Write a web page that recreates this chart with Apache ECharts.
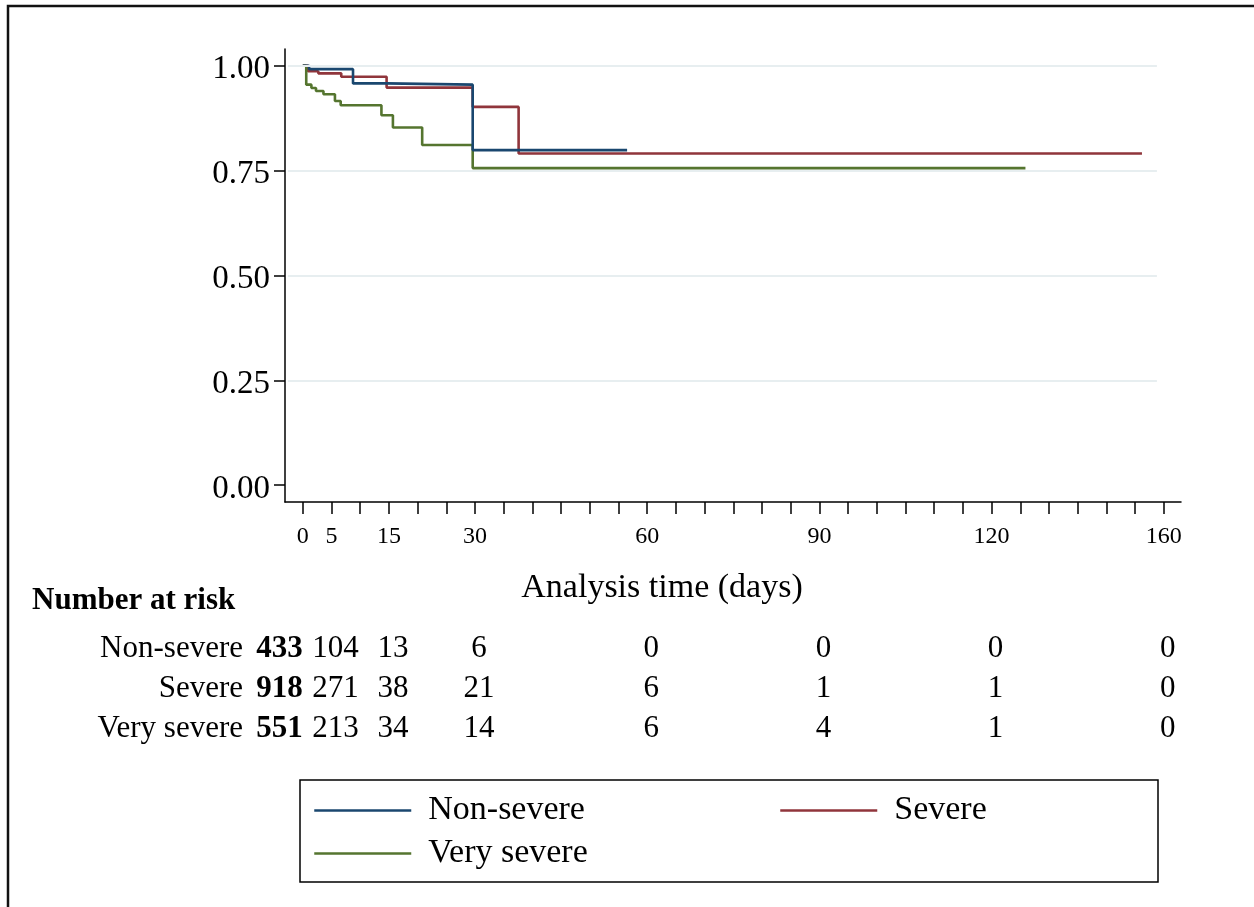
<!DOCTYPE html>
<html><head><meta charset="utf-8">
<script src="https://cdn.jsdelivr.net/npm/echarts@6/dist/echarts.min.js"></script>
<style>html,body{margin:0;padding:0;background:#fff}#c{width:1254px;height:907px}</style>
</head><body><div id="c"></div>
<script>
// ---- data ----
const groups = ['Non-severe', 'Severe', 'Very severe'];
const groupColors = ['#1a476f', '#90353b', '#55752f'];

const nonSevereTime = [0, 1.1, 8.75, 14.6, 29.6, 56.5];
const nonSevereSurv = [1.0, 0.992, 0.958, 0.955, 0.799, 0.799];

const severeTime = [0, 0.9, 2.7, 6.7, 14.6, 29.6, 37.6, 146.2];
const severeSurv = [1.0, 0.987, 0.982, 0.974, 0.948, 0.902, 0.791, 0.791];

const verySevereTime = [0, 0.6, 1.5, 2.3, 3.6, 5.6, 6.6, 13.7, 15.7, 20.8, 29.6, 125.9];
const verySevereSurv = [1.0, 0.955, 0.947, 0.940, 0.932, 0.916, 0.906, 0.882, 0.853, 0.811, 0.756, 0.756];

const yTickValues = [0, 0.25, 0.5, 0.75, 1];
const yTickLabels = ['0.00', '0.25', '0.50', '0.75', '1.00'];
const yGridValues = [0.25, 0.5, 0.75, 1];

const xTickValues = [0, 5, 10, 15, 20, 25, 30, 35, 40, 45, 50, 55, 60, 65, 70, 75, 80, 85, 90, 95, 100, 105, 110, 115, 120, 125, 130, 135, 140, 145, 150];
const xLabelValues = [0, 5, 15, 30, 60, 90, 120, 150];
const xLabelTexts = ['0', '5', '15', '30', '60', '90', '120', '160'];

const riskTimes = [0, 5, 15, 30, 60, 90, 120, 150];
const riskNonSevere = [433, 104, 13, 6, 0, 0, 0, 0];
const riskSevere = [918, 271, 38, 21, 6, 1, 1, 0];
const riskVerySevere = [551, 213, 34, 14, 6, 4, 1, 0];

// ---- build ----
const FONT = 'Liberation Serif';
const curves = [
  [nonSevereTime, nonSevereSurv],
  [severeTime, severeSurv],
  [verySevereTime, verySevereSurv]
];
const riskRows = [riskNonSevere, riskSevere, riskVerySevere];

const labelMap = {};
xLabelValues.forEach((v, i) => { labelMap[v] = xLabelTexts[i]; });
const yLabelMap = {};
yTickValues.forEach((v, i) => { yLabelMap[v] = yTickLabels[i]; });

const series = [];
series.push({
  type: 'line', xAxisIndex: 0, yAxisIndex: 0, data: [], z: 0, silent: true,
  markLine: {
    silent: true, symbol: 'none', label: { show: false },
    lineStyle: { color: '#e7eef0', width: 2, type: 'solid' },
    data: yGridValues.map(v => [{ coord: [-2.6, v] }, { coord: [148.8, v] }])
  }
});
curves.forEach((c, gi) => {
  series.push({
    name: groups[gi], type: 'line', step: 'end', xAxisIndex: 0, yAxisIndex: 0,
    symbol: 'none', z: 3 + (gi === 0 ? 1 : 0),
    lineStyle: { color: groupColors[gi], width: 2.6 },
    itemStyle: { color: groupColors[gi] },
    data: c[0].map((t, i) => [t, c[1][i]])
  });
});
// risk table numbers
const riskData = [];
riskRows.forEach((row, ri) => {
  row.forEach((n, ci) => { riskData.push([riskTimes[ci], ri, n, ci]); });
});
series.push({
  type: 'custom', xAxisIndex: 1, yAxisIndex: 1, silent: true,
  data: riskData,
  renderItem: function (params, api) {
    const pt = api.coord([api.value(0), api.value(1)]);
    const first = api.value(3) === 0;
    return {
      type: 'text',
      x: pt[0] + (first ? 0 : 4), y: pt[1],
      style: {
        text: String(api.value(2)), fill: '#000',
        font: (first ? 'bold ' : '') + '31px "Liberation Serif"',
        align: first ? 'right' : 'center', verticalAlign: 'middle'
      }
    };
  }
});

const legendBase = {
  orient: 'horizontal', padding: 0, itemWidth: 97, itemHeight: 40, selectedMode: false,
  itemStyle: { opacity: 0 },
  lineStyle: { width: 2.5 },
  textStyle: { fontFamily: FONT, fontSize: 34, color: '#000', lineHeight: 40, padding: [5, 0, 0, 12] }
};

const option = {
  animation: false,
  backgroundColor: '#fff',
  grid: [
    { left: 285, right: 73, top: 49, height: 453 },
    { left: 285, right: 73, top: 629, height: 120 }
  ],
  xAxis: [
    {
      type: 'value', gridIndex: 0, min: -3.1, max: 153,
      axisLine: { show: true, onZero: false, lineStyle: { color: '#000', width: 1.5 } },
      axisTick: { show: true, length: 12, customValues: xTickValues, lineStyle: { color: '#000', width: 1.5 } },
      axisLabel: { show: true, customValues: xLabelValues, margin: 23, fontFamily: FONT, fontSize: 24, color: '#000',
        formatter: v => labelMap[v] !== undefined ? labelMap[v] : '' },
      splitLine: { show: false }
    },
    { type: 'value', gridIndex: 1, min: -3.1, max: 153, show: false }
  ],
  yAxis: [
    {
      type: 'value', gridIndex: 0, min: -0.04, max: 1.04,
      axisLine: { show: true, onZero: false, lineStyle: { color: '#000', width: 1.5 } },
      axisTick: { show: true, length: 11, customValues: yTickValues, lineStyle: { color: '#000', width: 1.5 } },
      axisLabel: { show: true, customValues: yTickValues, margin: 15, color: '#000',
        formatter: v => yLabelMap[v] !== undefined ? '{t|' + yLabelMap[v] + '}' : '',
        rich: { t: { fontFamily: FONT, fontSize: 33, color: '#000', padding: [8, 0, 0, 0] } } },
      splitLine: { show: false }
    },
    {
      type: 'category', gridIndex: 1, data: [0, 1, 2], inverse: true,
      axisLine: { show: false }, axisTick: { show: false }, splitLine: { show: false },
      axisLabel: { show: true, interval: 0, margin: 42, fontFamily: FONT, fontSize: 31, color: '#000',
        formatter: (v, i) => groups[i] }
    }
  ],
  legend: [
    Object.assign({}, legendBase, { data: [groups[0]], left: 313, top: 788 }),
    Object.assign({}, legendBase, { data: [groups[1]], left: 779, top: 788 }),
    Object.assign({}, legendBase, { data: [groups[2]], left: 313, top: 831 })
  ],
  graphic: [
    { type: 'polyline', silent: true, shape: { points: [[8, 907], [8, 6], [1254, 6]] },
      style: { stroke: '#111', lineWidth: 2.5, fill: null } },
    { type: 'rect', silent: true, shape: { x: 300, y: 780, width: 858, height: 102 },
      style: { stroke: '#000', lineWidth: 1.5, fill: null } },
    { type: 'text', silent: true, x: 662, y: 588,
      style: { text: 'Analysis time (days)', fontFamily: FONT, fontSize: 34, fill: '#000', align: 'center', verticalAlign: 'middle' } },
    { type: 'text', silent: true, x: 32, y: 601,
      style: { text: 'Number at risk', fontFamily: FONT, fontSize: 31, fontWeight: 'bold', fill: '#000', align: 'left', verticalAlign: 'middle' } }
  ],
  series: series
};

const chart = echarts.init(document.getElementById('c'));
chart.setOption(option);
</script>
</body></html>
